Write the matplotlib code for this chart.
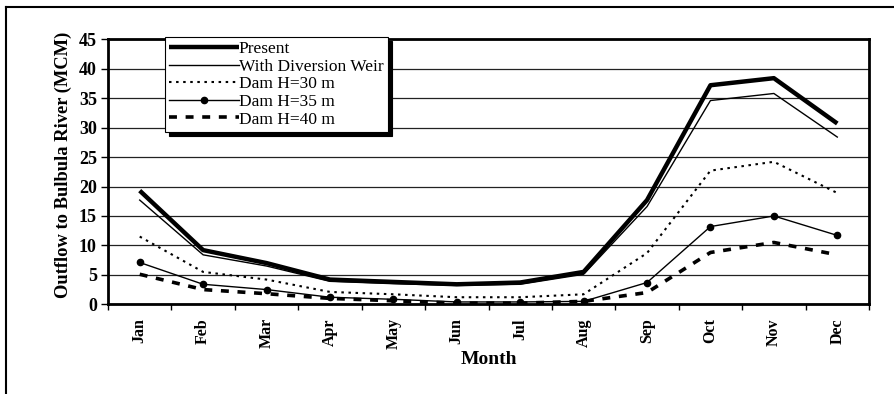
import matplotlib
matplotlib.use("Agg")
import matplotlib.pyplot as plt
from matplotlib.lines import Line2D

months = ["Jan", "Feb", "Mar", "Apr", "May", "Jun", "Jul", "Aug", "Sep", "Oct", "Nov", "Dec"]
present = [19.3, 9.2, 7.0, 4.2, 3.8, 3.4, 3.7, 5.5, 17.7, 37.2, 38.4, 30.7]
diversion = [17.7, 8.4, 6.5, 3.9, 3.5, 3.2, 3.4, 5.1, 16.6, 34.6, 35.8, 28.4]
dam30 = [11.5, 5.5, 4.2, 2.1, 1.7, 1.2, 1.2, 1.7, 8.7, 22.7, 24.2, 18.9]
dam35 = [7.1, 3.4, 2.5, 1.2, 0.85, 0.4, 0.4, 0.5, 3.7, 13.2, 15.0, 11.7]
dam40 = [5.1, 2.5, 1.8, 1.0, 0.6, 0.2, 0.2, 0.5, 2.0, 8.8, 10.5, 8.4]
yticks = [0, 5, 10, 15, 20, 25, 30, 35, 40, 45]

plt.rcParams['font.family'] = ['Liberation Serif', 'DejaVu Serif']

W, H = 894, 394
fig = plt.figure(figsize=(W / 100, H / 100), dpi=100)
ax = fig.add_axes([108 / W, 1 - 304.3 / H, (869 - 108) / W, (304.3 - 39.3) / H])

x = list(range(len(months)))
ax.plot(x, present, color='black', lw=3.2, solid_capstyle='butt', label='Present', zorder=5)
ax.plot(x, diversion, color='black', lw=1.0, label='With Diversion Weir', zorder=5)
ax.plot(x, dam30, color='black', lw=1.5, ls=(0, (1.2, 2.2)), label='Dam H=30 m', zorder=5)
ax.plot(x, dam35, color='black', lw=1.0, marker='o', ms=4.5, label='Dam H=35 m', zorder=5)
ax.plot(x, dam40, color='black', lw=2.6, ls=(0, (2.2, 2.4)), label='Dam H=40 m', zorder=5)

ax.set_xlim(-0.5, len(months) - 0.5)
ax.set_ylim(0, 45)
ax.set_yticks(yticks)
ax.set_yticklabels([str(v) for v in yticks], fontweight='bold', fontsize=13)
ax.yaxis.grid(True, color='#222222', lw=0.9)
ax.set_axisbelow(True)

ax.set_xticks([i - 0.5 for i in range(len(months) + 1)])
ax.set_xticklabels([])
ax.set_xticks(x, minor=True)
ax.set_xticklabels(months, minor=True, rotation=90, fontweight='bold', fontsize=11.5)
ax.tick_params(axis='x', which='major', direction='out', length=4, width=1, color='black')
ax.tick_params(axis='x', which='minor', length=0, pad=10)
ax.tick_params(axis='y', direction='out', length=5, width=1, pad=3)

for s in ax.spines.values():
    s.set_linewidth(2)
    s.set_color('black')

ax.set_ylabel('Outflow to Bulbula River (MCM)', fontweight='bold', fontsize=13.3)
ax.yaxis.set_label_coords(-0.047, 0.526)
ax.set_xlabel('Month', fontweight='bold', fontsize=14, labelpad=1)

leg = ax.legend(loc='upper left', bbox_to_anchor=(0.075, 1.009), borderaxespad=0,
                fontsize=12.5, handlelength=4.0, handletextpad=0.0, labelspacing=0.08,
                frameon=True, fancybox=False, edgecolor='black', framealpha=1,
                shadow={'color': 'black', 'alpha': 1, 'ox': 3, 'oy': -3},
                borderpad=0.25)
leg.get_frame().set_linewidth(0.8)
leg.set_zorder(10)

fig.add_artist(Line2D([6 / W, 6 / W], [0, 1 - 7 / H], color='black', lw=1.5, transform=fig.transFigure))
fig.add_artist(Line2D([6 / W, 1], [1 - 7 / H, 1 - 7 / H], color='black', lw=1.5, transform=fig.transFigure))

fig.savefig('out.png', dpi=100)
